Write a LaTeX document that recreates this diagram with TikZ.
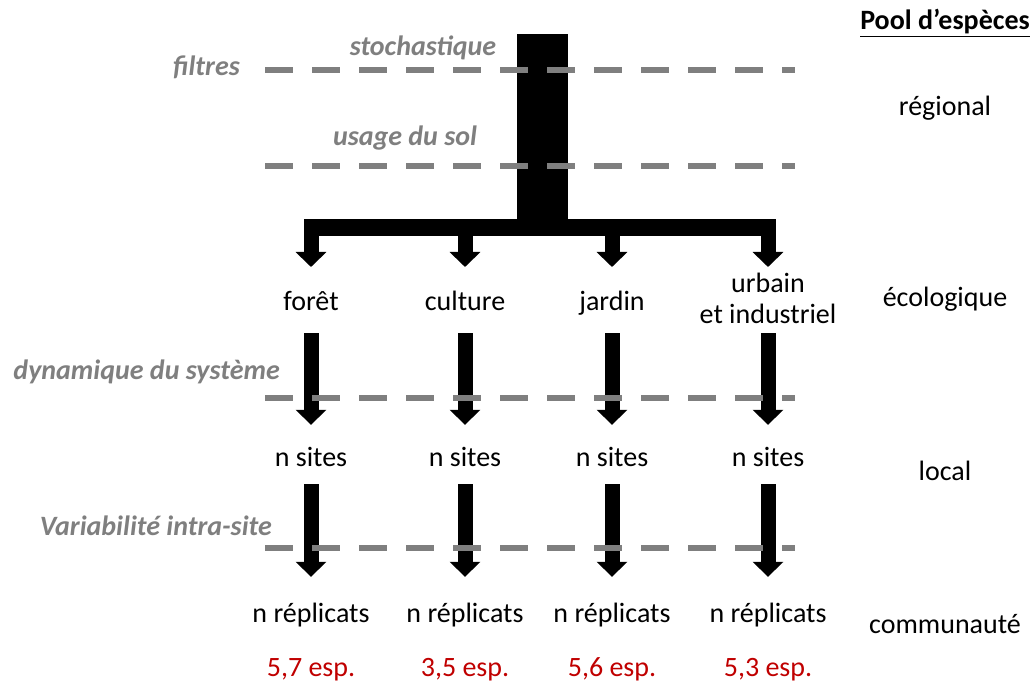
\documentclass[tikz,border=0pt]{standalone}
\usepackage{fontspec}
\setmainfont{Carlito}
\usepackage{xcolor}
\usetikzlibrary{arrows.meta}
\definecolor{filtergray}{RGB}{127,127,127}
\definecolor{espred}{RGB}{192,0,0}

\begin{document}
\begin{tikzpicture}[x=1pt,y=-1pt,every node/.style={font=\fontsize{28}{31}\selectfont,inner sep=0pt,align=center}]
\tikzstyle{txt}=[text height=20pt,text depth=2pt]
\tikzstyle{filtre}=[txt,filtergray,font=\fontsize{28}{31}\selectfont\bfseries\itshape]
\tikzstyle{seuil}=[filtergray,line width=6pt,dash pattern=on 28pt off 19pt]
\tikzstyle{fleche}=[line width=15pt,-{Triangle[width=30pt,length=15pt]}]
\useasboundingbox (0,0) rectangle (1035,684);

% columns: land use
\node[txt] (eco1) at (311,302) {forêt};
\node[txt] (eco2) at (465,302) {culture};
\node[txt] (eco3) at (612,302) {jardin};
\node (eco4) at (768,298) {urbain\\et industriel};
\foreach \i/\x/\e in {1/311/{5,7},2/465/{3,5},3/612/{5,6},4/768/{5,3}}{
  \node[txt] (site\i) at (\x,457) {n sites};
  \node[txt] (repl\i) at (\x,613) {n réplicats};
  \node[txt,espred] (esp\i) at (\x,667) {\e{} esp.};
}

% pool levels
\node[txt,font=\fontsize{28}{31}\selectfont\bfseries] (pool) at (945,21) {\underline{Pool d’espèces}};
\node[txt] (regional) at (945,107) {régional};
\node[txt] (ecologique) at (945,297) {écologique};
\node[txt] (local) at (945,471) {local};
\node[txt] (communaute) at (945,624) {communauté};

% trunk and branches
\fill (517,34) rectangle (568,236);
\fill (303.5,219) rectangle (775.5,236);
\coordinate (bar) at (542,230);
\foreach \i in {1,...,4}{
  \draw[fleche,shorten >=35pt] (eco\i |- bar) -- (eco\i |- eco1);
  \draw[fleche,shorten <=31pt,shorten >=21pt] (eco\i |- eco1) -- (site\i);
  \draw[fleche,shorten <=16pt,shorten >=25pt] (site\i) -- (repl\i);
}

% filters
\foreach \y in {70,166,398,548}
  \draw[seuil] (265,\y) -- (795,\y);
\node[filtre,anchor=east] (filtres) at (240,67) {filtres};
\node[filtre] (stoch) at (423,47) {stochastique};
\node[filtre] (usage) at (405,137) {usage du sol};
\node[filtre,anchor=east] (dyn) at (280,370) {dynamique du système};
\node[filtre,anchor=east] (vari) at (272,526) {Variabilité intra-site};
\end{tikzpicture}
\end{document}
